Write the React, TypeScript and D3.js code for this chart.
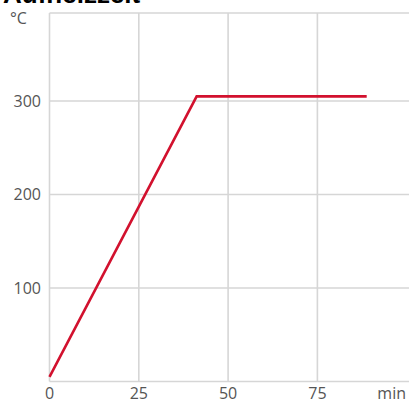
import React, { useEffect, useRef } from "react";
import * as d3 from "d3";

// heating curve: time (min) vs temperature (°C)
const timeMin = [0, 41.2, 88.8];
const tempC = [5, 305, 305];
const xTicks = [0, 25, 50, 75];
const yTicks = [100, 200, 300];

type Pt = { t: number; v: number };
const points: Pt[] = timeMin.map((t, i) => ({ t, v: tempC[i] }));

function App() {
  const ref = useRef<SVGSVGElement | null>(null);
  const width = 409;
  const height = 403;
  const marginTop = 13;
  const marginLeft = 49.5;
  const marginBottom = 21.5;

  useEffect(() => {
    const x = d3
      .scaleLinear()
      .domain([0, 100])
      .range([marginLeft, marginLeft + 357.2]);
    const y = d3
      .scaleLinear()
      .domain([0, 100])
      .range([height - marginBottom, height - marginBottom - 93.5]);

    const svg = d3.select(ref.current);
    svg.selectAll("*").remove();
    svg
      .attr("width", width)
      .attr("height", height)
      .attr("viewBox", [0, 0, width, height])
      .attr("style", "display:block; background:#fff; font-family: 'Open Sans', sans-serif;");

    const grid = svg.append("g").attr("stroke", "#d6d6d6").attr("stroke-width", 1.6);

    // horizontal grid + frame top
    grid
      .selectAll("line.h")
      .data([0, ...yTicks])
      .join("line")
      .attr("x1", marginLeft)
      .attr("x2", width)
      .attr("y1", (d) => y(d))
      .attr("y2", (d) => y(d));
    grid
      .append("line")
      .attr("x1", marginLeft)
      .attr("x2", width)
      .attr("y1", marginTop)
      .attr("y2", marginTop);

    // vertical grid
    grid
      .selectAll("line.v")
      .data(xTicks)
      .join("line")
      .attr("x1", (d) => x(d))
      .attr("x2", (d) => x(d))
      .attr("y1", marginTop)
      .attr("y2", y(0));

    // tick labels
    svg
      .append("g")
      .attr("fill", "#555")
      .attr("font-size", 16)
      .attr("text-anchor", "middle")
      .selectAll("text")
      .data(xTicks)
      .join("text")
      .attr("x", (d) => x(d))
      .attr("y", 399)
      .text((d) => d3.format("d")(d));

    svg
      .append("g")
      .attr("fill", "#555")
      .attr("font-size", 16)
      .attr("text-anchor", "end")
      .selectAll("text")
      .data(yTicks)
      .join("text")
      .attr("x", 41)
      .attr("y", (d) => y(d))
      .attr("dy", "0.36em")
      .text((d) => d3.format("d")(d));

    svg
      .append("text")
      .attr("x", 10)
      .attr("y", 24)
      .attr("fill", "#555")
      .attr("font-size", 16)
      .text("°C");

    svg
      .append("text")
      .attr("x", 406)
      .attr("y", 399)
      .attr("text-anchor", "end")
      .attr("fill", "#555")
      .attr("font-size", 16)
      .text("min");

    // the curve
    svg
      .append("path")
      .datum(points)
      .attr("fill", "none")
      .attr("stroke", "#d2112e")
      .attr("stroke-width", 2.6)
      .attr("stroke-linejoin", "miter")
      .attr(
        "d",
        d3
          .line<Pt>()
          .x((d) => x(d.t))
          .y((d) => y(d.v))
      );

    // title, cut off by the top edge
    svg
      .append("text")
      .attr("x", 3)
      .attr("y", 3)
      .attr("fill", "#000")
      .attr("font-family", "'Liberation Sans', Arial, sans-serif")
      .attr("font-weight", "bold")
      .attr("font-size", 26)
      .text("Aufheizzeit");
  }, []);

  return (
    <div style={{ position: "fixed", left: 0, top: 0 }}>
      <svg ref={ref}></svg>
    </div>
  );
}

export default App;
